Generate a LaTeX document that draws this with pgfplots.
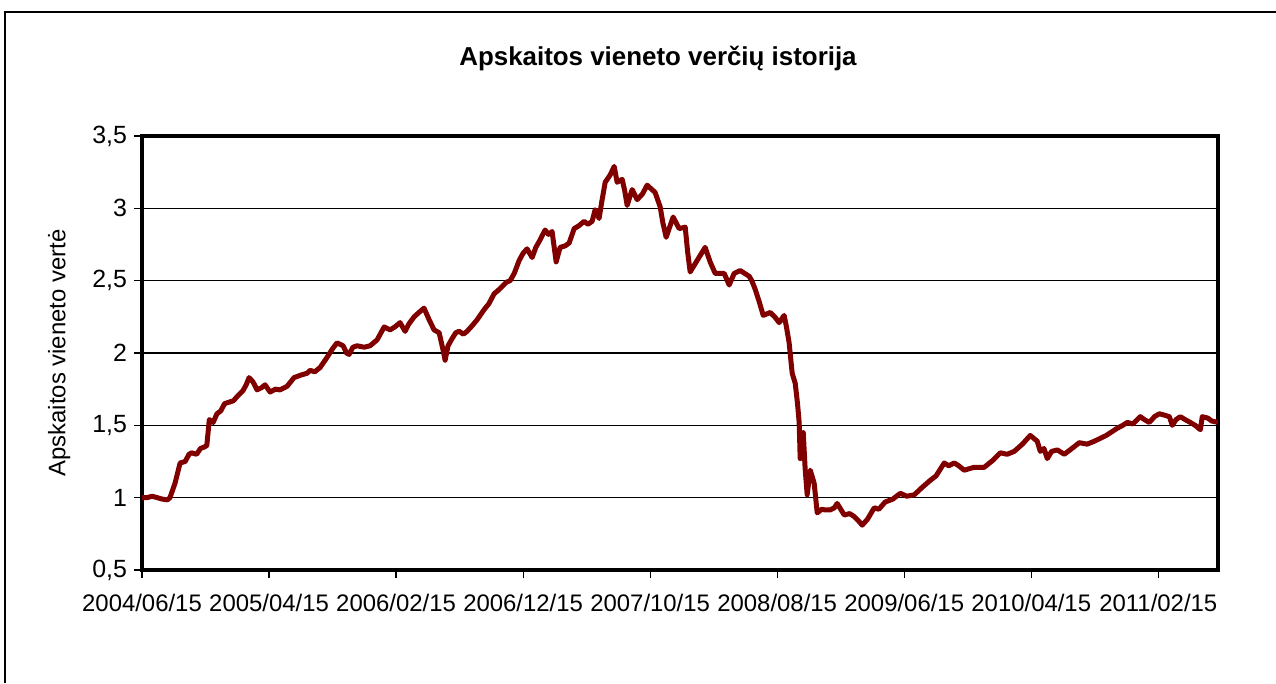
\documentclass[border=0pt]{standalone}
\usepackage{pgfplots}
\pgfplotsset{compat=1.18}
\usepackage{fontspec}
\setmainfont{Liberation Sans}
\definecolor{seriesred}{RGB}{128,0,0}

\begin{document}
\begin{tikzpicture}[x=1bp,y=1bp]
\useasboundingbox (0,0) rectangle (638,341.5);
\draw[line width=0.8bp] (2.5,0) -- (2.5,335.5) -- (638,335.5);
\node[font=\bfseries\fontsize{13}{15}\selectfont] at (329,312) {Apskaitos vieneto verčių istorija};
\begin{axis}[
  at={(71bp,56.5bp)}, anchor=south west,
  width=538bp, height=217bp, scale only axis,
  xmin=0, xmax=84.7, ymin=0.5, ymax=3.5,
  xtick={0,10,20,30,40,50,60,70,80},
  xticklabels={2004/06/15,2005/04/15,2006/02/15,2006/12/15,2007/10/15,2008/08/15,2009/06/15,2010/04/15,2011/02/15},
  ytick={0.5,1,1.5,2,2.5,3,3.5},
  /pgf/number format/.cd, use comma, fixed, assume math mode=true, /pgfplots/.cd,
  xtick pos=left, ytick pos=left,
  tick align=outside, major tick length=4bp,
  major tick style={line width=0.6bp, black},
  axis line style={line width=2.2bp, black},
  ymajorgrids, major grid style={line width=0.6bp, black},
  xticklabel style={font=\fontsize{12}{14}\selectfont, inner sep=1bp, yshift=-7bp},
  yticklabel style={font=\fontsize{12.5}{14}\selectfont},
  ylabel={Apskaitos vieneto vertė},
  ylabel style={font=\fontsize{12}{14}\selectfont, at={(axis description cs:-0.077,0.5)}, anchor=center},
  clip=true,
]
\addplot[seriesred, line width=2.5bp, line join=round] coordinates {
(0,1.00) (0.4,1.00) (0.8,1.01) (1.2,1.00) (1.6,0.99) (2.0,0.985) (2.2,1.00)
(2.6,1.10) (3.0,1.24) (3.4,1.25) (3.7,1.30) (3.9,1.31) (4.3,1.30) (4.6,1.34) (4.9,1.35)
(5.1,1.36) (5.3,1.54) (5.6,1.52) (5.9,1.58) (6.2,1.60) (6.5,1.65) (6.85,1.66) (7.2,1.67)
(7.5,1.70) (7.95,1.74) (8.2,1.78) (8.43,1.83) (8.74,1.80) (9.06,1.745) (9.4,1.76) (9.69,1.78)
(10.08,1.73) (10.5,1.75) (10.87,1.745) (11.42,1.77) (11.97,1.83) (12.6,1.85) (13.0,1.86)
(13.23,1.88) (13.6,1.87) (14.02,1.90) (14.57,1.97) (15.0,2.03) (15.35,2.07) (15.83,2.05)
(16.1,2.00) (16.3,1.99) (16.6,2.04) (16.93,2.05) (17.5,2.04) (17.95,2.05) (18.5,2.09)
(19.06,2.18) (19.53,2.16) (19.9,2.18) (20.31,2.21) (20.71,2.15) (21.0,2.20) (21.42,2.25)
(21.8,2.28) (22.2,2.31) (22.6,2.23) (22.99,2.16) (23.39,2.14) (23.7,2.02) (23.86,1.95)
(24.09,2.05) (24.41,2.10) (24.7,2.14) (24.96,2.15) (25.3,2.13) (25.59,2.15) (26.0,2.19)
(26.38,2.23) (26.93,2.30) (27.3,2.34) (27.72,2.41) (28.0,2.43) (28.35,2.46) (28.7,2.49)
(28.98,2.50) (29.3,2.55) (29.69,2.64) (30.0,2.69) (30.31,2.72) (30.71,2.66) (31.0,2.73)
(31.26,2.77) (31.73,2.85) (32.0,2.82) (32.28,2.84) (32.6,2.63) (32.91,2.73) (33.3,2.74)
(33.62,2.76) (34.02,2.86) (34.4,2.88) (34.8,2.91) (35.1,2.89) (35.43,2.91) (35.67,2.99)
(35.98,2.93) (36.2,3.05) (36.46,3.18) (36.85,3.23) (37.17,3.29) (37.4,3.18) (37.8,3.20)
(38.0,3.12) (38.19,3.02) (38.58,3.13) (38.98,3.06) (39.4,3.10) (39.76,3.16) (40.39,3.11)
(40.79,3.01) (41.0,2.90) (41.26,2.80) (41.81,2.94) (42.28,2.86) (42.76,2.87) (42.95,2.70)
(43.15,2.56) (43.7,2.64) (44.33,2.73) (44.72,2.63) (45.12,2.55) (45.83,2.55) (46.22,2.47)
(46.61,2.55) (47.09,2.57) (47.8,2.53) (48.0,2.50) (48.27,2.44) (48.6,2.35) (48.9,2.26)
(49.45,2.28) (49.8,2.25) (50.16,2.21) (50.55,2.26) (50.75,2.17) (50.94,2.07) (51.18,1.86)
(51.42,1.79) (51.6,1.65) (51.73,1.52) (51.81,1.27) (52.05,1.45) (52.2,1.20) (52.36,1.02)
(52.6,1.19) (52.91,1.10) (53.15,0.895) (53.5,0.92) (53.78,0.915) (54.17,0.915) (54.5,0.93)
(54.72,0.96) (55.0,0.92) (55.28,0.88) (55.7,0.89) (56.06,0.87) (56.4,0.84) (56.69,0.81)
(57.1,0.85) (57.64,0.93) (58.0,0.92) (58.5,0.97) (59.1,0.99) (59.69,1.03) (60.2,1.01)
(60.79,1.02) (61.4,1.07) (62.05,1.12) (62.5,1.15) (63.15,1.24) (63.5,1.22) (63.94,1.24)
(64.3,1.22) (64.72,1.19) (65.5,1.21) (66.3,1.21) (67.0,1.26) (67.56,1.31) (68.1,1.30)
(68.66,1.32) (69.3,1.37) (69.92,1.43) (70.2,1.41) (70.47,1.39) (70.71,1.32) (71.0,1.34)
(71.26,1.27) (71.6,1.32) (72.05,1.33) (72.6,1.30) (73.2,1.34) (73.78,1.38) (74.4,1.37)
(74.96,1.39) (75.9,1.43) (76.77,1.48) (77.2,1.50) (77.56,1.52) (78.0,1.51) (78.58,1.56)
(78.9,1.54) (79.29,1.52) (79.7,1.56) (80.08,1.58) (80.5,1.57) (80.87,1.56) (81.1,1.50)
(81.4,1.54) (81.73,1.56) (82.1,1.54) (82.52,1.52) (82.9,1.50) (83.31,1.47) (83.46,1.56)
(83.9,1.55) (84.2,1.53) (84.7,1.52)
};
\end{axis}
\end{tikzpicture}
\end{document}
